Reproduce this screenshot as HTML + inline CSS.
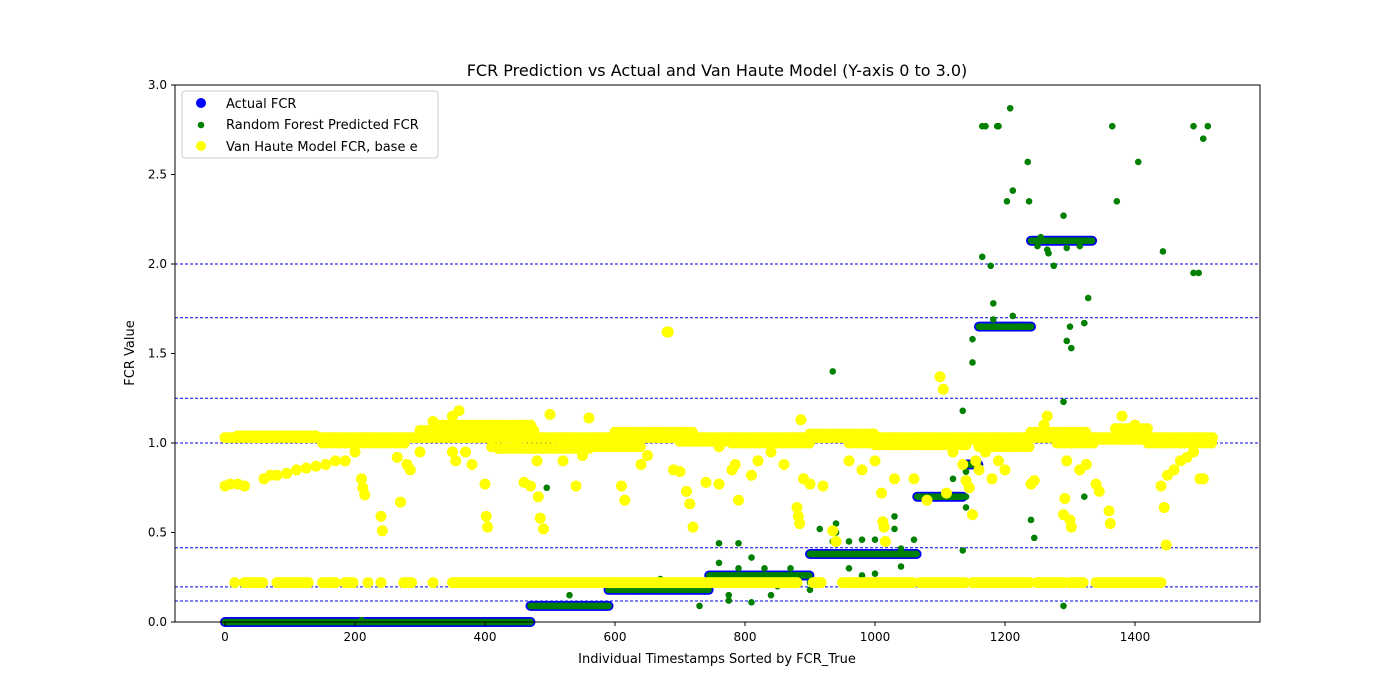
<!DOCTYPE html>
<html><head><meta charset="utf-8"><style>
body{margin:0;background:#fff}svg{display:block;font-family:"DejaVu Sans","Liberation Sans",sans-serif}
</style></head><body>
<svg id="c" width="1400" height="700">
<rect width="1400" height="700" fill="#fff"/>
<text x="717" y="76" font-size="16" text-anchor="middle">FCR Prediction vs Actual and Van Haute Model (Y-axis 0 to 3.0)</text>
<g id="grid"></g><g id="marks"></g>
<rect x="175" y="85" width="1085" height="537" fill="none" stroke="#000" stroke-width="1"/>
<g id="axes"></g>
<text x="717" y="663" font-size="13" text-anchor="middle">Individual Timestamps Sorted by FCR_True</text>
<text transform="translate(134,353) rotate(-90)" font-size="13" text-anchor="middle">FCR Value</text>
<g>
<rect x="182" y="91" width="256" height="67" rx="3" fill="#fff" fill-opacity="0.8" stroke="#ccc"/>
<circle cx="201" cy="103" r="5" fill="blue"/><text x="226" y="108" font-size="13">Actual FCR</text>
<circle cx="201" cy="125" r="3.3" fill="green"/><text x="226" y="129" font-size="13">Random Forest Predicted FCR</text>
<circle cx="201" cy="146" r="5" fill="yellow"/><text x="226" y="151" font-size="13">Van Haute Model FCR, base e</text>
</g>
</svg>
<script>
// data
const actualStart=[0,470,590,745,900,1065,1135,1160,1240];
const actualEnd=[470,590,745,900,1065,1135,1160,1240,1335];
const actualLevel=[0.0,0.09,0.18,0.26,0.38,0.70,0.88,1.65,2.13];
const refLines=[2.0,1.7,1.25,1.0,0.415,0.196,0.117];
const xTicks=[0,200,400,600,800,1000,1200,1400];
const yTicks=[0.0,0.5,1.0,1.5,2.0,2.5,3.0];
const rfX=[210,495,530,670,730,760,760,775,775,790,790,810,810,830,840,850,870,900,900,915,935,935,940,940,960,960,980,980,1000,1000,1030,1030,1040,1040,1060,1120,1135,1135,1140,1140,1140,1150,1150,1165,1165,1170,1178,1182,1182,1188,1190,1203,1208,1212,1212,1235,1237,1240,1245,1265,1267,1275,1290,1290,1290,1295,1295,1300,1302,1315,1322,1322,1328,1365,1372,1405,1443,1490,1490,1498,1505,1512,1250,1255];
const rfY=[0.01,0.75,0.15,0.24,0.09,0.44,0.33,0.12,0.15,0.44,0.3,0.11,0.36,0.3,0.15,0.2,0.3,0.18,0.22,0.52,1.4,0.45,0.55,0.5,0.3,0.45,0.46,0.26,0.46,0.27,0.59,0.52,0.41,0.31,0.46,0.8,0.4,1.18,0.64,0.7,0.84,1.58,1.45,2.04,2.77,2.77,1.99,1.78,1.69,2.77,2.77,2.35,2.87,2.41,1.71,2.57,2.35,0.57,0.47,2.08,2.06,1.99,2.27,1.23,0.09,2.09,1.57,1.65,1.53,2.1,1.67,0.7,1.81,2.77,2.35,2.57,2.07,2.77,1.95,1.95,2.7,2.77,2.1,2.15];
const vhLowStart=[15,30,80,150,185,220,240,275,320,350,600,905,950,1070,1150,1250,1300,1340];
const vhLowEnd=[16,60,130,170,200,221,241,290,321,600,880,920,1060,1140,1240,1290,1320,1440];
const vhBandStart=[0,300,600,900,1100,1240,1370,150,330,520,780,960,1160,1280,1420,20,420,700,1000,1330];
const vhBandEnd=[1520,480,720,1000,1200,1330,1420,280,470,640,900,1080,1240,1340,1520,140,560,860,1140,1500];
const vhBandLevel=[1.03,1.07,1.06,1.05,1.02,1.06,1.08,1.0,1.1,0.98,1.0,1.0,0.98,1.0,1.0,1.04,0.97,1.01,0.99,1.02];
const vhX=[0,8,20,30,60,70,80,95,110,125,140,155,170,185,200,210,212,215,240,242,265,270,280,285,300,320,350,355,360,370,380,400,402,404,410,460,470,480,482,485,490,500,520,540,550,560,610,615,640,680,682,690,700,710,715,720,740,760,780,785,790,810,820,840,860,880,882,884,886,890,900,920,935,940,960,980,1000,1010,1012,1014,1016,1030,1060,1080,1100,1105,1110,1120,1125,1135,1140,1145,1150,1155,1160,1170,1180,1190,1200,1240,1245,1260,1265,1290,1292,1295,1300,1302,1315,1325,1340,1345,1360,1362,1380,1400,1440,1445,1448,1450,1460,1470,1480,1490,1500,1505,350,450,650,760];
const vhY=[0.76,0.77,0.77,0.76,0.8,0.82,0.82,0.83,0.85,0.86,0.87,0.88,0.9,0.9,0.95,0.8,0.75,0.71,0.59,0.51,0.92,0.67,0.88,0.85,0.95,1.12,1.15,0.9,1.18,0.95,0.88,0.77,0.59,0.53,0.98,0.78,0.76,0.9,0.7,0.58,0.52,1.16,0.9,0.76,0.93,1.14,0.76,0.68,0.88,1.62,1.62,0.85,0.84,0.73,0.66,0.53,0.78,0.77,0.85,0.88,0.68,0.82,0.9,0.95,0.88,0.64,0.59,0.55,1.13,0.8,0.77,0.76,0.51,0.45,0.9,0.85,0.9,0.72,0.56,0.53,0.45,0.8,0.8,0.68,1.37,1.3,0.72,0.95,1.0,0.88,0.79,0.75,0.6,0.9,0.85,0.95,0.8,0.9,0.85,0.77,0.79,1.1,1.15,0.6,0.69,0.9,0.57,0.53,0.85,0.88,0.77,0.73,0.62,0.55,1.15,1.1,0.76,0.64,0.43,0.82,0.85,0.9,0.92,0.95,0.8,0.8,0.95,0.98,0.93,0.98];

const NS='http://www.w3.org/2000/svg';
const X=v=>225+v*0.65, Y=v=>622-v*179;
function mk(p,tag,a){const e=document.createElementNS(NS,tag);for(const k in a)e.setAttribute(k,a[k]);p.appendChild(e);return e;}
const grid=document.getElementById('grid'),marks=document.getElementById('marks'),axes=document.getElementById('axes');
refLines.forEach(v=>{const l=mk(grid,'line',{x1:175,x2:1260,y1:Y(v),y2:Y(v),stroke:'#0000ee','stroke-width':1,'stroke-dasharray':'3,2'});

});
xTicks.forEach(t=>{mk(axes,'line',{x1:X(t),x2:X(t),y1:622,y2:626,stroke:'#000'});const s=mk(axes,'text',{x:X(t),y:641,'font-size':12,'text-anchor':'middle'});s.textContent=t;

});
yTicks.forEach(t=>{mk(axes,'line',{x1:171,x2:175,y1:Y(t),y2:Y(t),stroke:'#000'});const s=mk(axes,'text',{x:167,y:Y(t)+4,'font-size':12,'text-anchor':'end'});s.textContent=t.toFixed(1);

});
const gA=mk(marks,'g',{}),gR=mk(marks,'g',{}),gV=mk(marks,'g',{});
actualLevel.forEach((lv,i)=>{for(let x=actualStart[i];x<=actualEnd[i];x+=2){const c=mk(gA,'circle',{cx:X(x),cy:Y(lv),r:5,fill:'blue'});

}
for(let x=actualStart[i];x<=actualEnd[i];x+=2){const c=mk(gR,'circle',{cx:X(x),cy:Y(lv),r:3.3,fill:'green'});

}});
rfX.forEach((x,i)=>{const c=mk(gR,'circle',{cx:X(x),cy:Y(rfY[i]),r:3.3,fill:'green'});

});
vhLowStart.forEach((s,i)=>{for(let x=s;x<=vhLowEnd[i];x+=4){const c=mk(gV,'circle',{cx:X(x),cy:Y(0.22),r:5.5,fill:'yellow'});

}});
vhBandStart.forEach((s,i)=>{for(let x=s;x<=vhBandEnd[i];x+=7){const c=mk(gV,'circle',{cx:X(x),cy:Y(vhBandLevel[i]),r:5.5,fill:'yellow'});

}});
vhX.forEach((x,i)=>{const c=mk(gV,'circle',{cx:X(x),cy:Y(vhY[i]),r:5.5,fill:'yellow'});

});
</script>
</body></html>
